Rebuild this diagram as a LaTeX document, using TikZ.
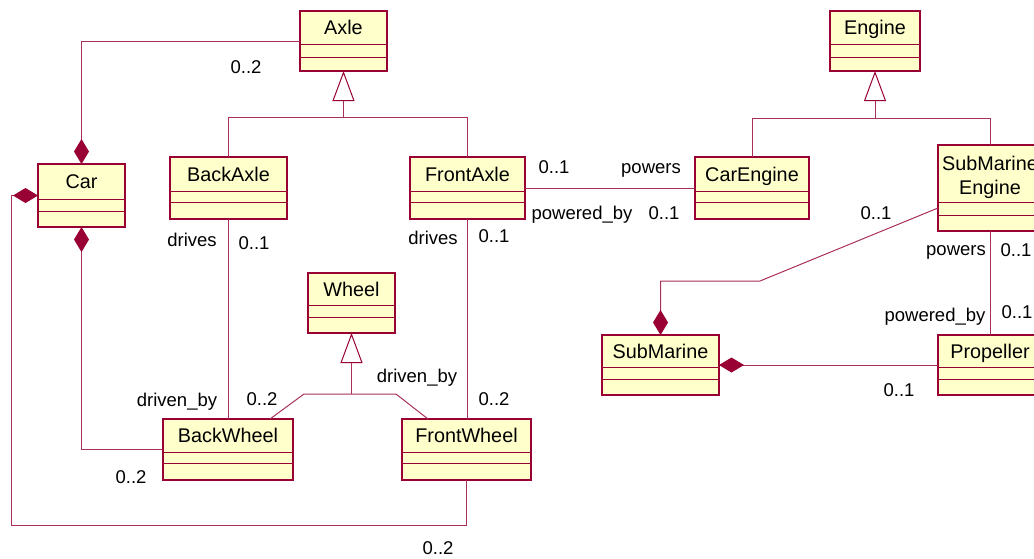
\documentclass[tikz,border=0pt]{standalone}
\usepackage{fontspec}
\setmainfont{Liberation Sans}
\usetikzlibrary{arrows.meta}
\definecolor{clsfill}{HTML}{FFFFCC}
\definecolor{clsdraw}{HTML}{990033}
\definecolor{assoc}{HTML}{A8305A}

% class box: name, x1, y1, x2, y2, first divider, second divider, title
\newcommand{\umlclass}[8]{%
  \node[clsbox, anchor=north west, minimum width={(#4-#2)*1pt},
        minimum height={(#5-#3)*1pt}] (#1) at (#2,#3) {};
  \draw[clsdiv] (#2,#6) -- (#4,#6) (#2,#7) -- (#4,#7);
  \node[clsname] (#1-title) at ({(#2+#4)/2},{(#3+#6)/2+7}) {#8};
}

\tikzset{
  clsbox/.style={draw=clsdraw, fill=clsfill, line width=1.3pt, inner sep=0pt, outer sep=0pt},
  clsdiv/.style={draw=clsdraw, line width=1pt},
  clsname/.style={anchor=base, inner sep=0pt, font=\fontsize{19.8}{24}\selectfont},
  lbl/.style={anchor=base, inner sep=0pt, font=\fontsize{18.5}{22}\selectfont},
  conn/.style={draw=assoc, line width=1pt},
  comp/.style={conn, {Diamond[length=25pt,width=15pt,fill=clsdraw,color=clsdraw]}-},
  gen/.style={conn, -{Triangle[open,length=30pt,width=22pt,fill=white,color=clsdraw]}},
}

\begin{document}
\begin{tikzpicture}[x=1pt,y=-1pt]
\useasboundingbox (0,0) rectangle (1034,558);

% classes
\umlclass{axle}{300}{11}{387}{71}{44}{57}{Axle}
\umlclass{car}{38}{164}{125}{227}{199}{211}{Car}
\umlclass{backaxle}{170}{157}{287}{219}{191}{202}{BackAxle}
\umlclass{frontaxle}{410}{157}{525}{219}{191}{202}{FrontAxle}
\umlclass{engine}{830}{11}{920}{71}{44}{57}{Engine}
\umlclass{carengine}{695}{157}{809}{219}{191}{202}{CarEngine}
\umlclass{subengine}{938}{145}{1042}{231}{202}{215}{}
\node[clsname] (subengine-t1) at (990,170) {SubMarine};
\node[clsname] (subengine-t2) at (990,194) {Engine};
\umlclass{wheel}{308}{273}{395}{333}{305}{317}{Wheel}
\umlclass{backwheel}{163}{419}{293}{480}{452}{463}{BackWheel}
\umlclass{frontwheel}{402}{419}{531}{480}{452}{463}{FrontWheel}
\umlclass{submarine}{602}{335}{719}{395}{367}{379}{SubMarine}
\umlclass{propeller}{938}{335}{1042}{395}{367}{379}{Propeller}

% junction points
\coordinate (axj) at (343.5,117);
\coordinate (enj) at (875,118);
\coordinate (wj) at (351.5,394);
\coordinate (wl) at (304,394);
\coordinate (wr) at (396,394);
\coordinate (subbend) at (760,281);
\coordinate (carloop) at (11,525);

% generalizations
\draw[gen] (axj) -- (axle.south);
\draw[conn] (backaxle.north) -- (backaxle.north |- axj) -- (frontaxle.north |- axj) -- (frontaxle.north);
\draw[gen] (enj) -- (engine.south);
\draw[conn] (carengine.north) -- (carengine.north |- enj) -- (subengine.north |- enj) -- (subengine.north);
\draw[gen] (wj) -- (wheel.south);
\draw[conn] ([xshift=42pt]backwheel.north) -- (wl) -- (wr) -- ([xshift=-38.5pt]frontwheel.north);

% compositions
\draw[comp] (car.north) |- (axle.west);
\draw[comp] (car.south) |- (backwheel.west);
\draw[comp] (car.west) -| (carloop) -| (frontwheel.south);
\draw[comp] (submarine.north) |- (subbend) -- ([yshift=-20pt]subengine.west);
\draw[comp] (submarine.east) -- (propeller.west);

% associations
\draw[conn] (frontaxle.east) -- (carengine.west);
\draw[conn] (backaxle.south) -- (backaxle.south |- backwheel.north);
\draw[conn] (frontaxle.south) -- (frontaxle.south |- frontwheel.north);
\draw[conn] (subengine.south) -- (subengine.south |- propeller.north);

% role names and multiplicities
\node[lbl] (m1) at (246,73.5) {0..2};
\node[lbl] (r1) at (192,246.5) {drives};
\node[lbl] (m2) at (254,249.5) {0..1};
\node[lbl] (m3) at (554,173.5) {0..1};
\node[lbl] (r2) at (651,173.5) {powers};
\node[lbl] (r3) at (582,219.5) {powered\_by};
\node[lbl] (m4) at (664,219.5) {0..1};
\node[lbl] (r4) at (433,244.5) {drives};
\node[lbl] (m5) at (494,242.5) {0..1};
\node[lbl] (m6) at (876,219.5) {0..1};
\node[lbl] (r5) at (956,255.5) {powers};
\node[lbl] (m7) at (1016,256.5) {0..1};
\node[lbl] (r6) at (935,321.5) {powered\_by};
\node[lbl] (m8) at (1017,318.5) {0..1};
\node[lbl] (m9) at (899,396.5) {0..1};
\node[lbl] (r7) at (177,406.5) {driven\_by};
\node[lbl] (m10) at (262,405.5) {0..2};
\node[lbl] (r8) at (417,382.5) {driven\_by};
\node[lbl] (m11) at (494,405.5) {0..2};
\node[lbl] (m12) at (131,483.5) {0..2};
\node[lbl] (m13) at (438,554.5) {0..2};
\end{tikzpicture}
\end{document}
